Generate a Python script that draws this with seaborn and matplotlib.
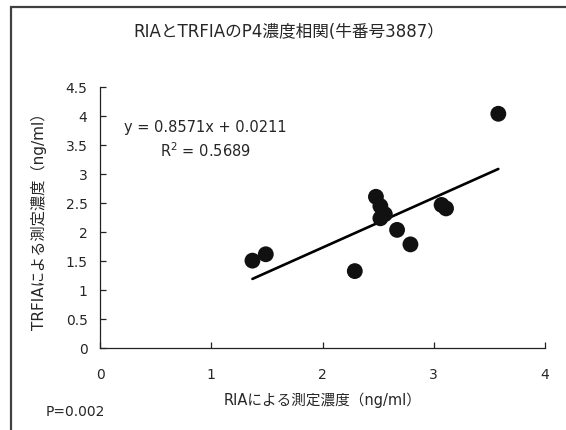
import numpy as np
import pandas as pd
import matplotlib
matplotlib.use("Agg")
import matplotlib.pyplot as plt
from matplotlib.patches import Rectangle
from matplotlib.ticker import FuncFormatter, MultipleLocator
import seaborn as sns

# P4 concentrations measured by both assays (cow no. 3887)
ria = [1.37, 1.49, 2.29, 2.48, 2.52, 2.56, 2.52, 2.67, 2.79, 3.07, 3.11, 3.58]
trfia = [1.51, 1.62, 1.33, 2.61, 2.45, 2.31, 2.24, 2.04, 1.79, 2.47, 2.41, 4.04]

# linear trendline reported on the chart
slope = 0.8571
intercept = 0.0211
r_squared = 0.5689
p_value = 0.002

title = "RIAとTRFIAのP4濃度相関(牛番号3887）"
xlabel = "RIAによる測定濃度（ng/ml）"
ylabel = "TRFIAによる測定濃度（ng/ml）"

sns.set_theme(style="white")
# Latin glyphs from DejaVu (wider, closer to the original), kana/kanji from Noto CJK
plt.rcParams["font.family"] = ["DejaVu Sans", "Noto Sans CJK JP"]

df = pd.DataFrame({"ria": ria, "trfia": trfia})
x_fit = np.array([min(ria), max(ria)])
fit = pd.DataFrame({"x": x_fit, "y": slope * x_fit + intercept})

fig = plt.figure(figsize=(5.66, 4.3), dpi=100)
ax = fig.add_axes([0.1767, 0.19, 0.7863, 0.6075])

# outer chart frame (Excel style, clipped at right/bottom)
fig.patches.append(Rectangle((0.0194, -0.05), 1.1, 1.0326, transform=fig.transFigure,
                             fill=False, edgecolor="#404040", linewidth=1.6))

sns.lineplot(data=fit, x="x", y="y", ax=ax, color="black", linewidth=1.9, zorder=2)
sns.scatterplot(data=df, x="ria", y="trfia", ax=ax, s=130, color="#111111",
                edgecolor="none", zorder=3)

ax.set_xlim(0, 4)
ax.set_ylim(0, 4.5)
ax.xaxis.set_major_locator(MultipleLocator(1))
ax.yaxis.set_major_locator(MultipleLocator(0.5))
ax.yaxis.set_major_formatter(FuncFormatter(lambda v, _: f"{v:g}"))

for side in ["top", "right"]:
    ax.spines[side].set_visible(False)
for side in ["left", "bottom"]:
    ax.spines[side].set_color("#222222")
    ax.spines[side].set_linewidth(0.9)

ax.tick_params(axis="x", direction="in", length=4, width=0.9, color="#222222",
               pad=14, labelsize=10, bottom=True)
ax.tick_params(axis="y", direction="in", length=4, width=0.9, color="#222222",
               pad=9, labelsize=10, left=True)

ax.set_xlabel(xlabel, fontsize=10.5, labelpad=8)
ax.set_ylabel(ylabel, fontsize=11, labelpad=13)

ax.text(0.22, 3.8, f"y = {slope}x + {intercept}", fontsize=10.5, va="center", ha="left")
ax.text(0.95, 3.41, f"R$^2$ = {r_squared}", fontsize=10.5, va="center", ha="center")

fig.text(0.51, 0.925, title, fontsize=12, ha="center", va="center")
fig.text(0.08, 0.042, f"P={p_value}", fontsize=10, ha="left", va="center")

fig.savefig("out.png", dpi=100)
